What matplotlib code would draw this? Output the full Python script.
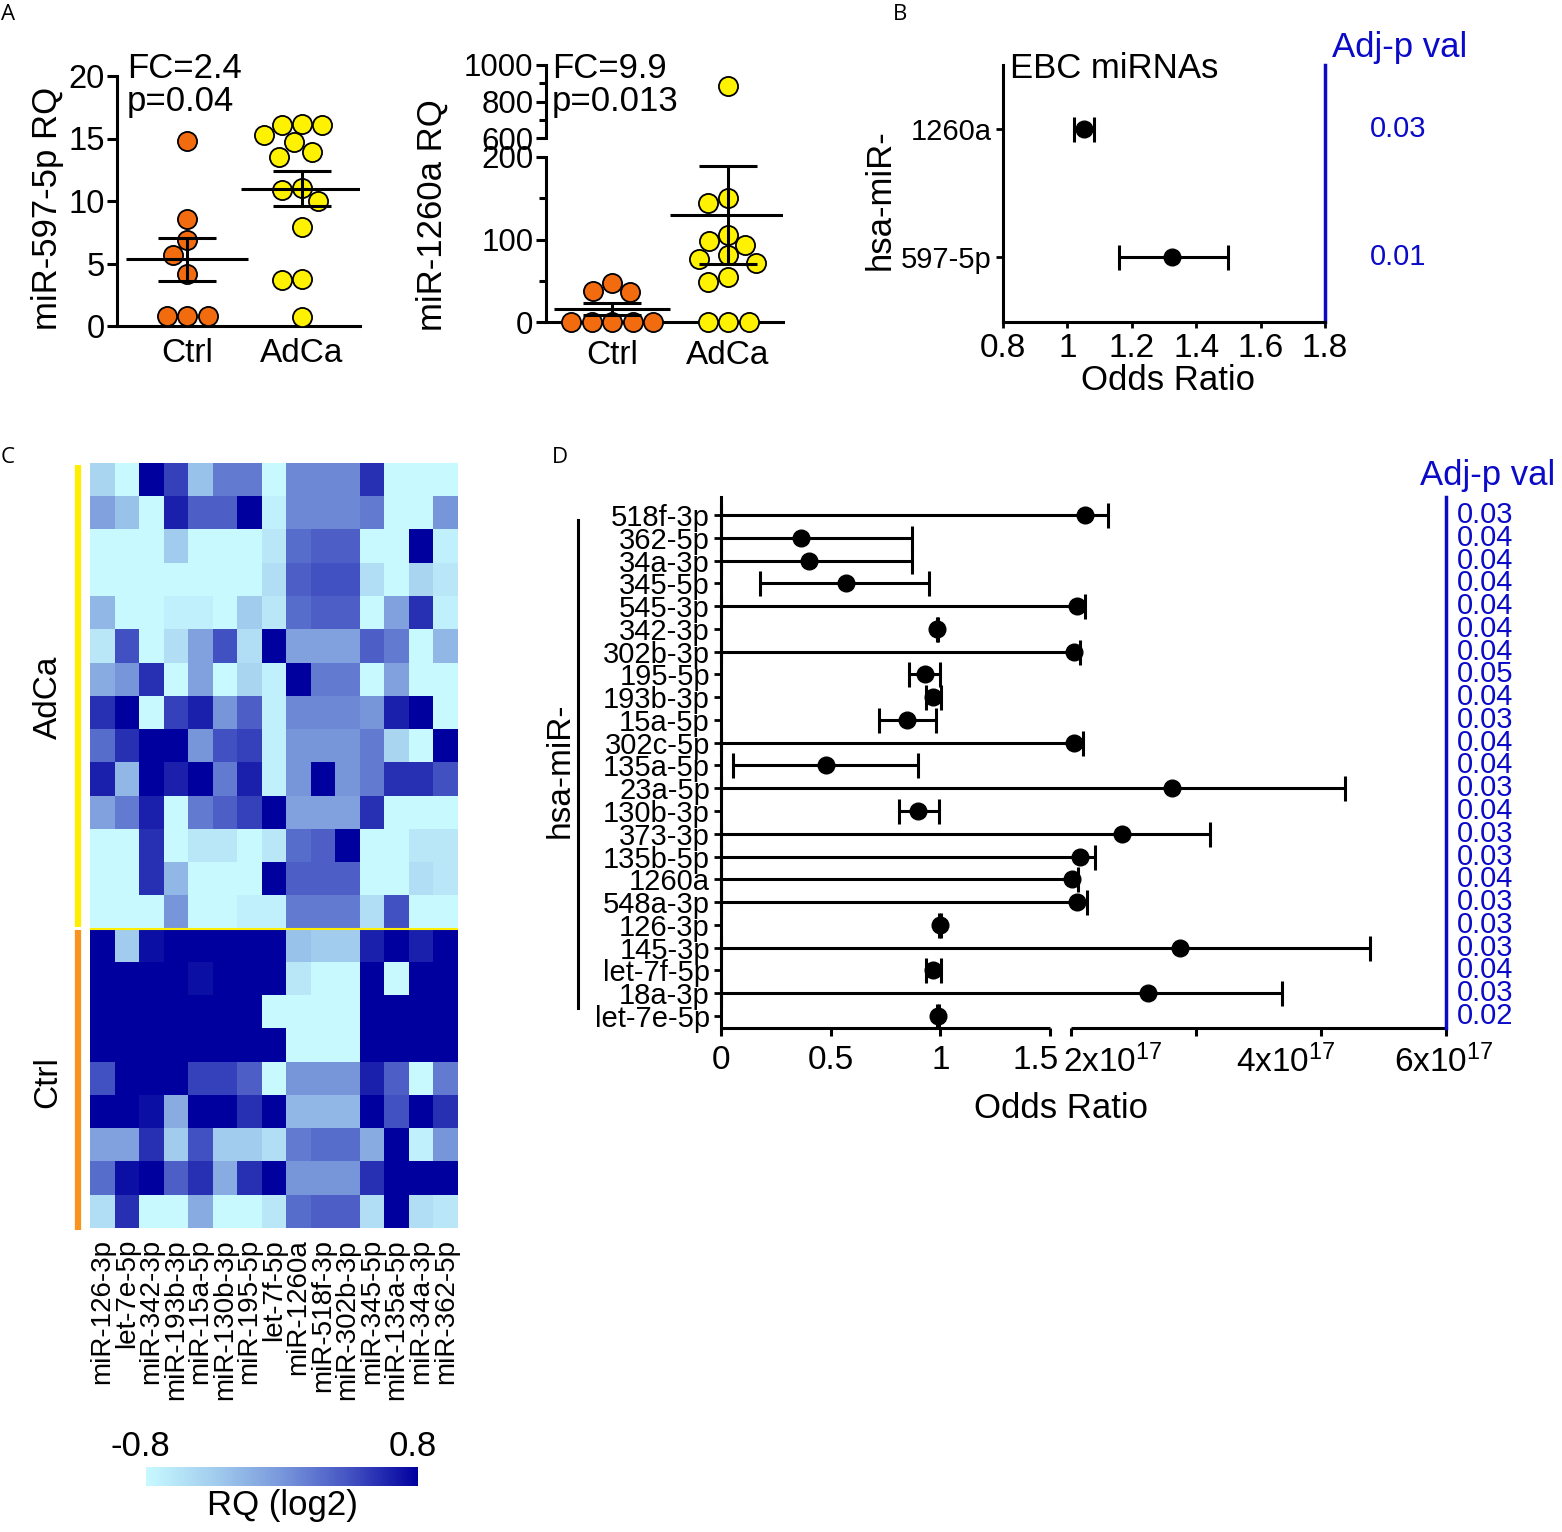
import numpy as np
import matplotlib
matplotlib.use('Agg')
import matplotlib.pyplot as plt
from matplotlib.colors import LinearSegmentedColormap, Normalize
from matplotlib.cm import ScalarMappable
from matplotlib.lines import Line2D
from matplotlib.ticker import NullLocator
import matplotlib.transforms as mtransforms

plt.rcParams['font.family'] = ['Liberation Sans', 'DejaVu Sans']
plt.rcParams['mathtext.default'] = 'regular'

# ---------------- data ----------------
groups = ['Ctrl', 'AdCa']
ctrl_597 = [14.8, 8.6, 6.9, 5.7, 4.2, 0.8, 0.8, 0.8]
adca_597 = [16.2, 16.05, 16.1, 15.3, 14.7, 13.9, 13.55, 10.9, 11.05, 10.0, 7.9, 3.7, 3.75, 0.7]
ctrl_1260 = [47, 38, 36, 0.5, 0.5, 0.5, 0.5, 0.5]
adca_1260 = [887, 150, 144, 106, 98, 93, 81, 76, 72, 54, 49, 0.5, 0.5, 0.5]

b_names = ['1260a', '597-5p']
b_or = [1.05, 1.325]
b_lo = [1.02, 1.16]
b_hi = [1.083, 1.50]
b_p = ['0.03', '0.01']

hm_cols = ['miR-126-3p', 'let-7e-5p', 'miR-342-3p', 'miR-193b-3p', 'miR-15a-5p',
           'miR-130b-3p', 'miR-195-5p', 'let-7f-5p', 'miR-1260a', 'miR-518f-3p',
           'miR-302b-3p', 'miR-345-5p', 'miR-135a-5p', 'miR-34a-3p', 'miR-362-5p']
hm_adca = [
    [-0.48, -0.8, 0.8, 0.48, -0.32, 0.16, 0.16, -0.8, 0.08, 0.08, 0.08, 0.56, -0.8, -0.8, -0.8],
    [-0.08, -0.32, -0.8, 0.64, 0.32, 0.32, 0.8, -0.72, 0.08, 0.08, 0.08, 0.16, -0.8, -0.8, 0.0],
    [-0.8, -0.8, -0.8, -0.4, -0.8, -0.8, -0.8, -0.64, 0.24, 0.32, 0.32, -0.8, -0.8, 0.8, -0.72],
    [-0.8, -0.8, -0.8, -0.8, -0.8, -0.8, -0.8, -0.56, 0.32, 0.4, 0.4, -0.56, -0.8, -0.48, -0.64],
    [-0.24, -0.8, -0.8, -0.72, -0.72, -0.8, -0.4, -0.64, 0.24, 0.32, 0.32, -0.8, -0.08, 0.56, -0.72],
    [-0.64, 0.4, -0.8, -0.56, -0.08, 0.4, -0.56, 0.8, -0.08, -0.08, -0.08, 0.32, 0.16, -0.8, -0.24],
    [-0.16, 0.0, 0.56, -0.8, -0.08, -0.8, -0.48, -0.72, 0.8, 0.16, 0.16, -0.8, -0.08, -0.8, -0.8],
    [0.56, 0.8, -0.8, 0.48, 0.64, 0.0, 0.32, -0.72, 0.08, 0.08, 0.08, 0.0, 0.64, 0.8, -0.8],
    [0.24, 0.56, 0.8, 0.8, 0.0, 0.4, 0.48, -0.72, 0.0, 0.0, 0.0, 0.16, -0.48, -0.8, 0.8],
    [0.64, -0.24, 0.8, 0.64, 0.8, 0.16, 0.64, -0.72, 0.0, 0.8, 0.0, 0.16, 0.56, 0.56, 0.4],
    [-0.08, 0.16, 0.64, -0.8, 0.16, 0.32, 0.48, 0.8, -0.08, -0.08, -0.08, 0.56, -0.8, -0.8, -0.8],
    [-0.8, -0.8, 0.56, -0.8, -0.64, -0.64, -0.8, -0.64, 0.24, 0.32, 0.8, -0.8, -0.8, -0.64, -0.64],
    [-0.8, -0.8, 0.56, -0.24, -0.8, -0.8, -0.8, 0.8, 0.32, 0.32, 0.32, -0.8, -0.8, -0.56, -0.64],
    [-0.8, -0.8, -0.8, 0.0, -0.8, -0.8, -0.72, -0.72, 0.16, 0.16, 0.16, -0.56, 0.4, -0.8, -0.8],
]
hm_ctrl = [
    [0.8, -0.4, 0.72, 0.8, 0.8, 0.8, 0.8, 0.8, -0.32, -0.4, -0.4, 0.64, 0.8, 0.64, 0.8],
    [0.8, 0.8, 0.8, 0.8, 0.72, 0.8, 0.8, 0.8, -0.64, -0.8, -0.8, 0.8, -0.8, 0.8, 0.8],
    [0.8, 0.8, 0.8, 0.8, 0.8, 0.8, 0.8, -0.8, -0.8, -0.8, -0.8, 0.8, 0.8, 0.8, 0.8],
    [0.8, 0.8, 0.8, 0.8, 0.8, 0.8, 0.8, 0.8, -0.8, -0.8, -0.8, 0.8, 0.8, 0.8, 0.8],
    [0.4, 0.8, 0.8, 0.8, 0.48, 0.48, 0.32, -0.8, 0.0, 0.0, 0.0, 0.64, 0.32, -0.8, 0.16],
    [0.8, 0.8, 0.72, -0.16, 0.8, 0.8, 0.56, 0.8, -0.24, -0.24, -0.24, 0.8, 0.4, 0.8, 0.56],
    [-0.08, -0.08, 0.56, -0.4, 0.4, -0.4, -0.4, -0.56, 0.16, 0.24, 0.24, -0.16, 0.8, -0.72, 0.0],
    [0.24, 0.72, 0.8, 0.32, 0.56, -0.16, 0.56, 0.8, 0.0, 0.0, 0.0, 0.56, 0.8, 0.8, 0.8],
    [-0.56, 0.56, -0.8, -0.8, -0.16, -0.8, -0.8, -0.64, 0.24, 0.32, 0.32, -0.56, 0.8, -0.56, -0.64],
]

d_names = ['518f-3p', '362-5p', '34a-3p', '345-5p', '545-3p', '342-3p', '302b-3p',
           '195-5p', '193b-3p', '15a-5p', '302c-5p', '135a-5p', '23a-5p', '130b-3p',
           '373-3p', '135b-5p', '1260a', '548a-3p', '126-3p', '145-3p', 'let-7f-5p',
           '18a-3p', 'let-7e-5p']
d_or = [2.24e16, 0.365, 0.40, 0.57, 9.1e15, 0.987, 4.8e15, 0.93, 0.968, 0.85, 5.3e15,
        0.48, 1.61e17, 0.90, 8.1e16, 1.44e16, 2.1e15, 9.1e15, 1.0, 1.75e17, 0.968,
        1.24e17, 0.99]
d_lo = [0, 0, 0, 0.18, 0, 0.985, 0, 0.855, 0.934, 0.72, 0, 0.056, 0, 0.81, 0, 0, 0, 0,
        0.995, 0, 0.934, 0, 0.985]
d_hi = [5.87e16, 0.87, 0.87, 0.95, 2.24e16, 0.99, 1.4e16, 1.0, 1.002, 0.98, 1.87e16,
        0.90, 4.38e17, 0.995, 2.22e17, 3.84e16, 1.1e16, 2.5e16, 1.005, 4.78e17, 1.002,
        3.37e17, 0.995]
d_p = ['0.03', '0.04', '0.04', '0.04', '0.04', '0.04', '0.04', '0.05', '0.04', '0.03',
       '0.04', '0.04', '0.03', '0.04', '0.03', '0.03', '0.04', '0.03', '0.03', '0.03',
       '0.04', '0.03', '0.02']

ORANGE = '#f26b0f'
YELLOW = '#fff200'
BLUE = '#0a0ac8'

W, H = 1562, 1532
fig = plt.figure(figsize=(W / 100, H / 100), dpi=100)


def rect(l, t, r, b):
    return [l / W, 1 - b / H, (r - l) / W, (b - t) / H]


def ftext(x, y, s, **kw):
    kw.setdefault('ha', 'center')
    kw.setdefault('va', 'center')
    fig.text(x / W, 1 - y / H, s, **kw)


def swarm(vals, ypx, d):
    # simple beeswarm: x offsets in pixels
    offs = [0.0] * len(vals)
    placed = []
    for i in sorted(range(len(vals)), key=lambda k: -vals[k]):
        y = ypx(vals[i])
        cands = [0.0]
        for xj, yj in placed:
            dy = abs(y - yj)
            if dy < d:
                dx = np.sqrt(d * d - dy * dy)
                cands += [xj + dx, xj - dx]
        cands.sort(key=lambda c: (abs(c), c))
        for c in cands:
            if all((c - xj) ** 2 + (y - yj) ** 2 >= d * d - 1e-6 for xj, yj in placed):
                offs[i] = c
                break
        placed.append((offs[i], y))
    return offs


def mean_sem(ax, vals, k, half_m=0.53, half_s=0.25):
    m = np.mean(vals)
    se = np.std(vals, ddof=1) / np.sqrt(len(vals))
    kw = dict(color='k', lw=2.2, zorder=4, solid_capstyle='butt')
    ax.plot([k - half_m, k + half_m], [m, m], **kw)
    ax.plot([k - half_s, k + half_s], [m + se, m + se], **kw)
    ax.plot([k - half_s, k + half_s], [m - se, m - se], **kw)
    ax.plot([k, k], [m - se, m + se], **kw)


# ---------------- panel A left ----------------
ax = fig.add_axes(rect(117, 76, 360, 326))
for k, (vals, col) in enumerate([(ctrl_597, ORANGE), (adca_597, YELLOW)]):
    offs = swarm(vals, lambda v: v * 12.5, 20.5)
    ax.scatter(k + np.array(offs) / 115, vals, s=190, c=col, edgecolors='k',
               linewidths=1.3, zorder=3, clip_on=False)
    mean_sem(ax, vals, k)
ax.set_xlim(-0.609, 1.504)
ax.set_ylim(0, 20)
ax.set_yticks([0, 5, 10, 15, 20])
ax.set_xticks([0, 1], groups)
ax.tick_params(axis='y', labelsize=23.5, length=7, width=2.2, pad=2)
ax.tick_params(axis='x', labelsize=24, length=0, pad=9)
for s in ['top', 'right']:
    ax.spines[s].set_visible(False)
for s in ['left', 'bottom']:
    ax.spines[s].set_linewidth(2.2)
ftext(48, 208, 'miR-597-5p RQ', rotation=90, fontsize=25)
ftext(127, 68, 'FC=2.4', fontsize=25, ha='left')
ftext(127, 101, 'p=0.04', fontsize=25, ha='left')

# ---------------- panel A right (broken axis) ----------------
axU = fig.add_axes(rect(546, 65, 783, 138))
axL = fig.add_axes(rect(546, 157, 783, 322))


def ypx_1260(v):
    return v * 0.825 if v <= 200 else 185 + (v - 600) * 0.1825


for k, (vals, col) in enumerate([(ctrl_1260, ORANGE), (adca_1260, YELLOW)]):
    offs = swarm(vals, ypx_1260, 20.5)
    xs = k + np.array(offs) / 116
    for x, v in zip(xs, vals):
        target = axU if v > 200 else axL
        target.scatter([x], [v], s=190, c=col, edgecolors='k', linewidths=1.3,
                       zorder=3, clip_on=False)
    mean_sem(axL, vals, k, half_m=0.5, half_s=0.25)
for a in (axU, axL):
    a.set_xlim(-0.569, 1.474)
    for s in ['top', 'right']:
        a.spines[s].set_visible(False)
    a.spines['left'].set_linewidth(2.2)
    a.tick_params(axis='y', which='major', labelsize=22.5, length=7, width=2.2, pad=2)
    a.tick_params(axis='y', which='minor', length=5, width=2.2)
axU.spines['bottom'].set_visible(False)
axU.set_xticks([])
axU.set_ylim(600, 1000)
axU.set_yticks([600, 800, 1000])
axU.set_yticks([700, 900], minor=True)
axL.set_ylim(0, 200)
axL.set_yticks([0, 100, 200])
axL.set_yticks([50, 150], minor=True)
axL.spines['bottom'].set_linewidth(2.2)
axL.set_xticks([0, 1], groups)
axL.tick_params(axis='x', labelsize=24, length=0, pad=13)
ftext(432, 215, 'miR-1260a RQ', rotation=90, fontsize=25)
ftext(552, 68, 'FC=9.9', fontsize=25, ha='left')
ftext(552, 101, 'p=0.013', fontsize=25, ha='left')

# ---------------- panel B ----------------
axB = fig.add_axes(rect(1003, 65, 1325, 322))
b_pos = [1, 0]
b_or_a = np.array(b_or)
axB.errorbar(b_or_a, b_pos, xerr=[b_or_a - np.array(b_lo), np.array(b_hi) - b_or_a],
             fmt='o', color='k', ms=12, capsize=9, elinewidth=2.2, capthick=2.2)
axB.set_xlim(0.8, 1.8)
axB.set_ylim(-0.508, 1.5)
axB.set_xticks([0.8, 1.0, 1.2, 1.4, 1.6, 1.8], ['0.8', '1', '1.2', '1.4', '1.6', '1.8'])
axB.set_yticks(b_pos, b_names)
axB.tick_params(axis='x', labelsize=24, length=4, width=2, pad=4)
axB.tick_params(axis='y', labelsize=21, length=5, width=2, pad=3)
axB.spines['top'].set_visible(False)
axB.spines['left'].set_linewidth(2.2)
axB.spines['bottom'].set_linewidth(2.2)
axB.spines['right'].set_color(BLUE)
axB.spines['right'].set_linewidth(2.5)
trB = mtransforms.blended_transform_factory(axB.transAxes, axB.transData)
for y, p in zip(b_pos, b_p):
    axB.text(1.227, y, p, transform=trB, color=BLUE, fontsize=21, ha='center', va='center')
ftext(1332, 48, 'Adj-p val', fontsize=25, color=BLUE, ha='left')
ftext(1010, 68, 'EBC miRNAs', fontsize=25, ha='left')
ftext(880, 200, 'hsa-miR-', rotation=90, fontsize=25)
ftext(1168, 381, 'Odds Ratio', fontsize=25)

# ---------------- panel C heatmap ----------------
cmap = LinearSegmentedColormap.from_list(
    'rq', ['#c8f9ff', '#a2cdee', '#7897db', '#4352c2', '#00009e'])
axC = fig.add_axes(rect(90, 463, 458, 1228))
hm = np.array(hm_adca + hm_ctrl)
axC.imshow(hm, cmap=cmap, vmin=-0.8, vmax=0.8, aspect='auto', interpolation='nearest')
axC.axhline(len(hm_adca) - 0.5, color='#ffee00', lw=1.5)
axC.set_xticks(range(len(hm_cols)), hm_cols, rotation=90)
axC.set_yticks([])
axC.tick_params(axis='x', length=0, labelsize=20, pad=8)
for s in axC.spines.values():
    s.set_visible(False)
fig.add_artist(Line2D([78 / W, 78 / W], [1 - 465 / H, 1 - 927 / H], color='#ffee00', lw=4.5,
                      solid_capstyle='butt'))
fig.add_artist(Line2D([78 / W, 78 / W], [1 - 930 / H, 1 - 1230 / H], color='#f7931e', lw=4.5,
                      solid_capstyle='butt'))
ftext(48, 697, 'AdCa', rotation=90, fontsize=24)
ftext(48, 1082, 'Ctrl', rotation=90, fontsize=24)

axCB = fig.add_axes(rect(146, 1467, 418, 1486))
cb = fig.colorbar(ScalarMappable(norm=Normalize(-0.8, 0.8), cmap=cmap), cax=axCB,
                  orientation='horizontal')
cb.set_ticks([])
cb.outline.set_visible(False)
ftext(140, 1447, '-0.8', fontsize=25)
ftext(413, 1447, '0.8', fontsize=25)
ftext(282, 1505, 'RQ (log2)', fontsize=25)

# ---------------- panel D (broken x axis) ----------------
GAP = 21 / 219.3
RS = 3.509e17


def fwd(x):
    x = np.asarray(x, dtype=float)
    return np.where(x <= 1.5, x, 1.5 + GAP + x / RS)


def inv(p):
    p = np.asarray(p, dtype=float)
    return np.where(p <= 1.5, p, np.where(p < 1.5 + GAP, 1.5, (p - 1.5 - GAP) * RS))


axD = fig.add_axes(rect(721, 497, 1446, 1028))
axD.set_xscale('function', functions=(fwd, inv))
n = len(d_names)
ypos = np.arange(n)[::-1]
orr = np.array(d_or)
axD.errorbar(orr, ypos, xerr=[orr - np.array(d_lo), np.array(d_hi) - orr], fmt='o',
             color='k', ms=12, capsize=9, elinewidth=2.2, capthick=2.2, clip_on=False)
axD.set_xlim(0, 6e17)
axD.set_ylim(-0.527, n - 1 + 0.79)
axD.set_xticks([0, 0.5, 1, 1.5, 1.5000001, 2e17, 4e17, 6e17], [''] * 8)
axD.xaxis.set_minor_locator(NullLocator())
axD.set_yticks(ypos, d_names)
axD.tick_params(axis='y', labelsize=21, length=5, width=2, pad=3)
axD.tick_params(axis='x', length=6, width=2.2)
axD.spines['top'].set_visible(False)
axD.spines['bottom'].set_visible(False)
axD.spines['left'].set_linewidth(2.2)
axD.spines['right'].set_color(BLUE)
axD.spines['right'].set_linewidth(2.5)
trx = axD.get_xaxis_transform()
axD.plot([0, 1.5], [0, 0], color='k', lw=2.2, transform=trx, clip_on=False,
         solid_capstyle='butt')
axD.plot([1.5000001, 6e17], [0, 0], color='k', lw=2.2, transform=trx, clip_on=False,
         solid_capstyle='butt')
for xv, lab, dx in [(0, '0', 0), (0.5, '0.5', 0), (1, '1', 0), (1.5, '1.5', -10),
                    (2e17, '2x10$^{17}$', -60), (4e17, '4x10$^{17}$', -25),
                    (6e17, '6x10$^{17}$', -1.5)]:
    axD.annotate(lab, xy=(xv, 0), xycoords=trx, xytext=(dx, -12), textcoords='offset points',
                 ha='center', va='top', fontsize=24, annotation_clip=False)
for y, p in zip(ypos, d_p):
    axD.annotate(p, xy=(1, y), xycoords=('axes fraction', 'data'), xytext=(8, 0),
                 textcoords='offset points', ha='left', va='center', color=BLUE, fontsize=21)
fig.add_artist(Line2D([578 / W, 578 / W], [1 - 520 / H, 1 - 1008 / H], color='k', lw=2.2))
ftext(560, 770, 'hsa-miR-', rotation=90, fontsize=24)
ftext(1420, 476, 'Adj-p val', fontsize=25, color=BLUE, ha='left')
ftext(1061, 1108, 'Odds Ratio', fontsize=25)

# panel letters
for x, y, s in [(8, 15, 'A'), (900, 15, 'B'), (8, 457, 'C'), (560, 457, 'D')]:
    ftext(x, y, s, fontsize=16, family='Open Sans')

fig.savefig('out.png', dpi=100)
